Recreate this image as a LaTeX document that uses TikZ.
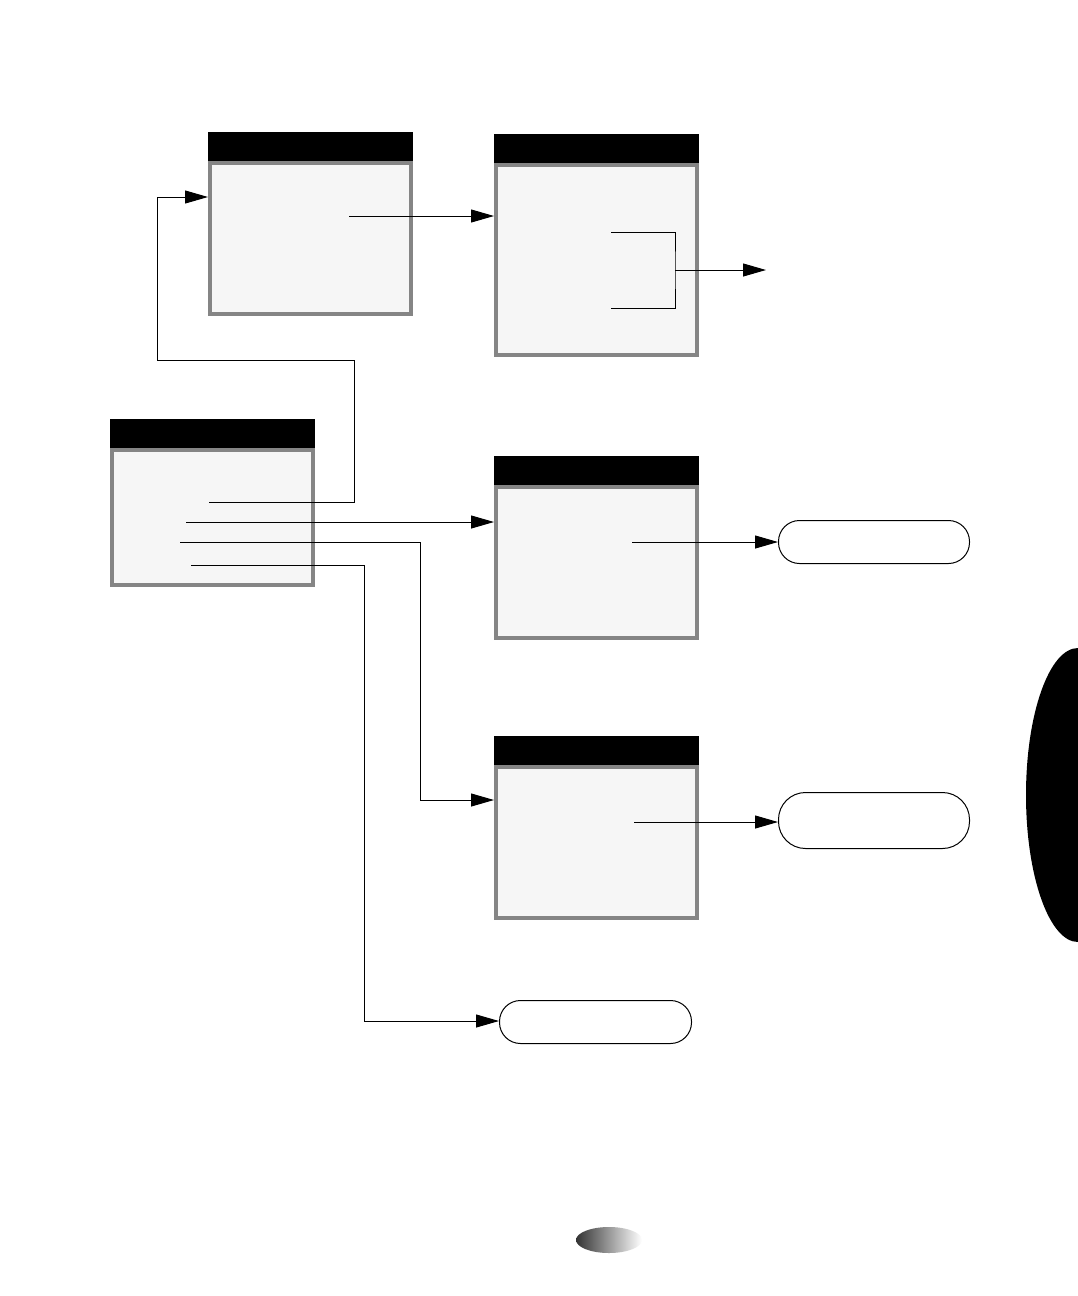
\documentclass[tikz,border=0pt]{standalone}
\usetikzlibrary{arrows.meta,calc}
\definecolor{bodyfill}{HTML}{F6F6F6}
\definecolor{bordergray}{HTML}{858585}
\tikzset{
  winbody/.style={rectangle, fill=bodyfill, draw=bordergray, line width=4pt, inner sep=0pt, minimum width=201pt},
  winhead/.style={rectangle, fill=black, inner sep=0pt, minimum width=205pt, minimum height=29pt},
  pill/.style={rectangle, draw=black, line width=1pt, fill=white, rounded corners=21pt, inner sep=0pt},
  conn/.style={line width=1pt},
  arr/.style={conn, -{Triangle[length=23pt,width=13pt]}}
}
\begin{document}
\begin{tikzpicture}[x=1pt,y=-1pt]
\useasboundingbox[fill=white] (0,0) rectangle (1078,1296);

% windows
\node[winbody, minimum height=151pt] (A) at (310.5,238) {};
\node[winhead] (Ah) at (310.5,146.5) {};
\node[winbody, minimum height=190pt] (B) at (596.5,260) {};
\node[winhead] (Bh) at (596.5,148.5) {};
\node[winbody, minimum height=135pt] (C) at (212.5,517.5) {};
\node[winhead] (Ch) at (212.5,433.5) {};
\node[winbody, minimum height=151pt] (D) at (596.5,562.5) {};
\node[winhead] (Dh) at (596.5,470.5) {};
\node[winbody, minimum height=151pt] (E) at (596.5,842.5) {};
\node[winhead] (Eh) at (596.5,750.5) {};

% pills
\node[pill, minimum width=191pt, minimum height=43pt] (P1) at (874,542) {};
\node[pill, minimum width=191pt, minimum height=56pt, rounded corners=27pt] (P2) at (874,820.5) {};
\node[pill, minimum width=192pt, minimum height=43pt] (P3) at (595.5,1022) {};

% start coordinates
\coordinate (a1) at (349,216);
\coordinate (b1) at (611,232);
\coordinate (b2) at (611,308);
\coordinate (bj) at (675,270);
\coordinate (bout) at (766,270);
\coordinate (c1) at (209,502);
\coordinate (c2) at (186,522);
\coordinate (c3) at (180,542);
\coordinate (c4) at (191,565);
\coordinate (d1) at (632,542);
\coordinate (e1) at (634,822);

% connectors
\draw[arr] (c1) -- (354,502) -- (354,360) -- (157,360) -- (157,197) -- (A.west |- 0,197);
\draw[arr] (a1) -- (B.west |- a1);
\draw[conn] (b1) -| (bj) |- (b2);
\draw[arr] (bj) -- (bout);
\draw[arr] (c2) -- (D.west |- c2);
\draw[arr] (c3) -- (420,542) -- (420,800) -- (E.west |- 0,800);
\draw[arr] (c4) -- (364,565) -- (364,1021) -- (P3.west |- 0,1021);
\draw[arr] (d1) -- (P1.west |- d1);
\draw[arr] (e1) -- (P2.west |- e1);

% side tab
\fill[black] (1078,648) arc[start angle=270, end angle=90, x radius=52, y radius=147] -- cycle;

% page number blob
\shade[left color=black!80, middle color=gray!25, right color=white] (609,1240) ellipse [x radius=33, y radius=13];
\end{tikzpicture}
\end{document}
